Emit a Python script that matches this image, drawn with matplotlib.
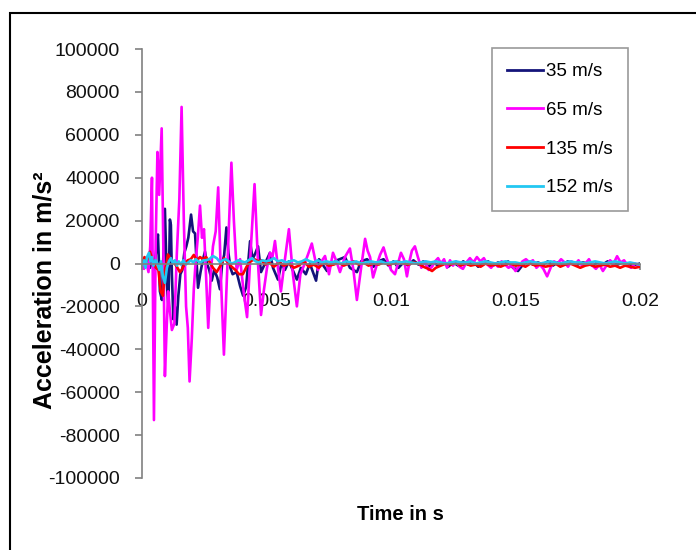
import matplotlib
matplotlib.use("Agg")
import matplotlib.pyplot as plt
from matplotlib import font_manager
from matplotlib.patches import Rectangle
from matplotlib.ticker import FixedLocator, FixedFormatter

# ---- data: acceleration (m/s^2) vs time (s) for four impact velocities ----
labels = ["35 m/s", "65 m/s", "135 m/s", "152 m/s"]
colors = ["#14147a", "#ff00ff", "#ff0000", "#22c7f2"]

t_35 = [0.00000, 0.00008, 0.00016, 0.00024, 0.00032, 0.00040, 0.00048, 0.00056,
        0.00064, 0.00072, 0.00080, 0.00086, 0.00092, 0.00100, 0.00106, 0.00112,
        0.00116, 0.00120, 0.00126, 0.00132, 0.00139, 0.00146, 0.00154, 0.00162,
        0.00170, 0.00178, 0.00186, 0.00197, 0.00205, 0.00213, 0.00225, 0.00235,
        0.00245, 0.00253, 0.00261, 0.00270, 0.00280, 0.00290, 0.00302, 0.00313,
        0.00322, 0.00330, 0.00339, 0.00347, 0.00355, 0.00364, 0.00380, 0.00394,
        0.00406, 0.00418, 0.00434, 0.00444, 0.00456, 0.00466, 0.00478, 0.00490,
        0.00514, 0.00526, 0.00546, 0.00560, 0.00574, 0.00590, 0.00622, 0.00638,
        0.00658, 0.00674, 0.00699, 0.00711, 0.00743, 0.00763, 0.00783, 0.00815,
        0.00835, 0.00863, 0.00880, 0.00904, 0.00930, 0.00950, 0.00970, 0.00990,
        0.01010, 0.01030, 0.01050, 0.01070, 0.01090, 0.01110, 0.01130, 0.01150,
        0.01170, 0.01190, 0.01210, 0.01230, 0.01250, 0.01270, 0.01290, 0.01310,
        0.01330, 0.01350, 0.01370, 0.01390, 0.01410, 0.01430, 0.01450, 0.01470,
        0.01490, 0.01510, 0.01530, 0.01550, 0.01570, 0.01590, 0.01610, 0.01630,
        0.01650, 0.01670, 0.01690, 0.01710, 0.01730, 0.01750, 0.01770, 0.01790,
        0.01810, 0.01830, 0.01850, 0.01870, 0.01890, 0.01910, 0.01930, 0.01950,
        0.01970, 0.02000]
a_35 = [0, 1500, -1000, 2000, -2000, 1000, -3000, 5000,
        13500, -13000, -17000, 5000, 25500, -10000, -20000, 20500,
        18000, -5000, -26000, -20000, -28500, -15000, -5000, -3000,
        5000, 8000, 12000, 22800, 15000, 14000, -11300, -4000,
        2000, 5500, 0, -3000, -8000, -3000, -6500, -12000,
        0, 4000, 16800, 5000, -2000, -5000, -4000, -10500,
        -15000, -11000, 10400, 2000, 5000, 8000, -4000, -1000,
        5000, -2000, -7500, 0, -3000, 1000, -7500, -2000,
        -5000, 0, -8000, 2000, -3500, 0, 1500, 3000,
        -2000, -4000, 1000, 2000, -1500, 1000, 2000, -1000,
        1000, -2000, 500, -1000, 1500, -500, 1000, -1500,
        500, -1000, 1000, -1500, 500, -1000, 1000, -500,
        1000, -1500, 0, 1000, -1000, 500, -500, 1000,
        -2000, -3500, -500, 1000, -500, 500, -500, 1000,
        -1000, 500, -500, 1000, 0, -500, 500, 0,
        -1000, 500, -500, 1000, 0, -500, 500, 0,
        -1000, 0]

t_65 = [0.00000, 0.00008, 0.00016, 0.00026, 0.00033, 0.00040, 0.00048, 0.00055,
        0.00062, 0.00069, 0.00079, 0.00086, 0.00092, 0.00099, 0.00105, 0.00112,
        0.00120, 0.00130, 0.00140, 0.00150, 0.00159, 0.00168, 0.00177, 0.00184,
        0.00191, 0.00200, 0.00208, 0.00215, 0.00224, 0.00233, 0.00241, 0.00249,
        0.00257, 0.00266, 0.00276, 0.00285, 0.00296, 0.00306, 0.00318, 0.00329,
        0.00340, 0.00350, 0.00359, 0.00369, 0.00380, 0.00394, 0.00410, 0.00422,
        0.00436, 0.00452, 0.00466, 0.00478, 0.00490, 0.00502, 0.00514, 0.00524,
        0.00534, 0.00546, 0.00558, 0.00574, 0.00590, 0.00606, 0.00622, 0.00636,
        0.00650, 0.00666, 0.00682, 0.00695, 0.00707, 0.00721, 0.00735, 0.00751,
        0.00767, 0.00781, 0.00795, 0.00815, 0.00835, 0.00849, 0.00863, 0.00880,
        0.00896, 0.00906, 0.00916, 0.00928, 0.00942, 0.00956, 0.00970, 0.00984,
        0.01000, 0.01016, 0.01028, 0.01040, 0.01052, 0.01064, 0.01076, 0.01084,
        0.01096, 0.01108, 0.01122, 0.01137, 0.01151, 0.01165, 0.01177, 0.01189,
        0.01201, 0.01213, 0.01225, 0.01237, 0.01249, 0.01261, 0.01275, 0.01289,
        0.01303, 0.01317, 0.01331, 0.01345, 0.01359, 0.01373, 0.01387, 0.01402,
        0.01416, 0.01430, 0.01444, 0.01458, 0.01472, 0.01486, 0.01500, 0.01514,
        0.01528, 0.01542, 0.01556, 0.01570, 0.01584, 0.01598, 0.01612, 0.01627,
        0.01641, 0.01655, 0.01669, 0.01683, 0.01697, 0.01711, 0.01725, 0.01739,
        0.01753, 0.01767, 0.01781, 0.01795, 0.01809, 0.01823, 0.01837, 0.01851,
        0.01865, 0.01880, 0.01894, 0.01908, 0.01922, 0.01936, 0.01950, 0.01964,
        0.01980, 0.02000]
a_65 = [0, -2500, 1500, -4000, 8000, 40000, -73000, 10000,
        52000, 32000, 63000, 5000, -52500, -30000, -13000, -22000,
        -31000, -28000, 5000, 30000, 73000, 20000, -20000, -30000,
        -55000, -35000, -12000, 0, 12000, 27000, 12000, 16000,
        -5000, -30000, -5000, 8000, 15000, 35500, -10000, -42500,
        -10000, 20000, 47000, 20000, -3000, 2000, -15000, -25000,
        5000, 37000, 0, -24000, -12000, -2000, 5000, 3000,
        10500, -2000, -13000, 2000, 16000, -5000, -20000, -5000,
        -1000, 4000, 9300, 2000, -3000, 1000, 3500, -5000,
        5000, 1000, -4000, 3000, 7000, -3000, -17000, -2000,
        11500, 6000, 3000, -6500, -1000, 4000, 7500, 2000,
        -3000, -5000, 0, 5000, 2000, -6000, 2000, 6000,
        8000, 3000, -2000, 1000, -3000, -1500, 1000, 2500,
        0, 2000, -2000, 1500, -1000, 1000, -1500, -2500,
        500, 2500, 500, 3000, 1000, 2500, -500, -2000,
        0, -1500, 1000, -500, -2000, -1000, -3500, -1500,
        1000, 2000, 500, 1500, -2000, -500, -2500, -6000,
        -2000, 1000, 0, 2000, 500, -1500, 1000, -500,
        1500, -1000, 0, 2000, -1000, -2500, -500, -3500,
        -1000, 1500, 0, 3400, 500, 1500, -1000, -2000,
        0, -1000]

t_135 = [0.00000, 0.00010, 0.00020, 0.00032, 0.00044, 0.00056, 0.00066, 0.00075,
         0.00084, 0.00092, 0.00100, 0.00104, 0.00116, 0.00128, 0.00140, 0.00152,
         0.00160, 0.00172, 0.00184, 0.00196, 0.00208, 0.00220, 0.00233, 0.00245,
         0.00257, 0.00270, 0.00285, 0.00300, 0.00315, 0.00330, 0.00345, 0.00360,
         0.00375, 0.00390, 0.00405, 0.00420, 0.00436, 0.00452, 0.00466, 0.00480,
         0.00495, 0.00510, 0.00530, 0.00550, 0.00570, 0.00590, 0.00610, 0.00630,
         0.00650, 0.00670, 0.00690, 0.00710, 0.00730, 0.00750, 0.00770, 0.00790,
         0.00810, 0.00830, 0.00850, 0.00870, 0.00890, 0.00910, 0.00930, 0.00950,
         0.00970, 0.00990, 0.01010, 0.01030, 0.01050, 0.01070, 0.01090, 0.01110,
         0.01130, 0.01150, 0.01165, 0.01180, 0.01200, 0.01220, 0.01240, 0.01260,
         0.01280, 0.01300, 0.01320, 0.01340, 0.01360, 0.01380, 0.01400, 0.01420,
         0.01440, 0.01460, 0.01480, 0.01500, 0.01520, 0.01540, 0.01560, 0.01580,
         0.01600, 0.01620, 0.01640, 0.01660, 0.01680, 0.01700, 0.01720, 0.01740,
         0.01760, 0.01780, 0.01800, 0.01820, 0.01840, 0.01860, 0.01880, 0.01900,
         0.01920, 0.01940, 0.01960, 0.01980, 0.02000]
a_135 = [0, 3000, 1500, 5500, 1000, -2000, -3000, -13000,
         -15000, -3000, 1000, 4200, 2000, 500, -1500, -4000,
         -2800, 0, 1500, 2000, 4000, 1500, 3000, 2000,
         3000, 1000, -2000, -4000, -1000, 2500, 500, -1500,
         -3000, -5000, -5000, -1500, 1000, 2000, 1000, 1500,
         -500, 500, -1500, 500, -1000, 0, -2000, -1000,
         1000, -1500, -500, -2000, 500, -1000, -500, 500,
         -1000, 0, 1000, -500, 500, -1000, 0, -500,
         500, -500, 0, 1000, 0, -500, 500, 0,
         -1500, -2500, -3500, -2000, -1000, 0, -500, 500,
         -1000, 0, -1000, -500, -1500, 0, -1000, -500,
         -1500, -500, 0, -1000, -500, -1500, 0, -1000,
         -500, -1500, -1000, 0, -1500, -500, 0, -1000,
         -2000, -1000, -500, -1500, -1000, -500, -1500, -1000,
         -2000, -1000, -1500, -2000, -1500]

t_152 = [0.00000, 0.00008, 0.00014, 0.00020, 0.00028, 0.00034, 0.00040, 0.00046,
         0.00054, 0.00062, 0.00070, 0.00076, 0.00084, 0.00092, 0.00100, 0.00108,
         0.00116, 0.00124, 0.00132, 0.00140, 0.00148, 0.00156, 0.00166, 0.00176,
         0.00186, 0.00196, 0.00206, 0.00216, 0.00226, 0.00236, 0.00246, 0.00256,
         0.00270, 0.00285, 0.00300, 0.00314, 0.00324, 0.00336, 0.00348, 0.00360,
         0.00372, 0.00386, 0.00400, 0.00414, 0.00428, 0.00442, 0.00456, 0.00470,
         0.00484, 0.00498, 0.00514, 0.00530, 0.00546, 0.00562, 0.00578, 0.00594,
         0.00610, 0.00626, 0.00642, 0.00658, 0.00674, 0.00690, 0.00706, 0.00722,
         0.00740, 0.00760, 0.00780, 0.00800, 0.00820, 0.00840, 0.00860, 0.00880,
         0.00900, 0.00920, 0.00940, 0.00960, 0.00980, 0.01000, 0.01020, 0.01040,
         0.01060, 0.01080, 0.01100, 0.01120, 0.01140, 0.01160, 0.01180, 0.01200,
         0.01220, 0.01240, 0.01260, 0.01280, 0.01300, 0.01320, 0.01340, 0.01360,
         0.01380, 0.01400, 0.01420, 0.01440, 0.01460, 0.01480, 0.01500, 0.01520,
         0.01540, 0.01560, 0.01580, 0.01600, 0.01620, 0.01640, 0.01660, 0.01680,
         0.01700, 0.01720, 0.01740, 0.01760, 0.01780, 0.01800, 0.01820, 0.01840,
         0.01860, 0.01880, 0.01900, 0.01920, 0.01940, 0.01960, 0.01980, 0.02000]
a_152 = [-1000, 1500, -2000, 3000, 5000, 1000, 3000, -1000,
         1500, 0, -3000, 1000, -6000, -9000, -2000, 1000,
         2500, 0, 1500, -1000, 1000, -500, 1500, -500,
         500, 1500, 500, 2000, 1000, 500, 1500, 1500,
         2000, 3500, 2500, 500, 1500, 2000, 1000, 0,
         500, 1500, 1000, 500, 1500, 2500, 1000, 500,
         1500, 1000, 1500, 2500, 1000, 1500, 500, 1000,
         1500, 500, 1000, 2000, 1000, 500, 1500, 500,
         1000, 500, 1000, 0, 1000, 500, 1000, 0,
         500, 1000, 500, 1000, 0, 500, 1000, 500,
         1000, 500, 0, 500, 1000, 500, 1000, 500,
         0, 500, 1000, 500, 500, 1000, 0, 500,
         1000, 500, 0, 500, 1000, 500, 500, 0,
         500, 1000, 500, 0, 500, 1000, 500, 0,
         500, 1000, 500, 500, 0, 500, 1000, 500,
         0, 500, 1000, 500, 0, 500, 0, -500]

x_ticks = [0, 0.005, 0.01, 0.015, 0.02]
x_tick_labels = ["0", "0.005", "0.01", "0.015", "0.02"]
y_ticks = [-100000, -80000, -60000, -40000, -20000, 0,
           20000, 40000, 60000, 80000, 100000]
y_tick_labels = [str(v) for v in y_ticks]

# ---- fonts ----
installed = {f.name for f in font_manager.fontManager.ttflist}
narrow = "Liberation Sans Narrow" if "Liberation Sans Narrow" in installed else "Liberation Sans"
plt.rcParams["font.family"] = [narrow, "DejaVu Sans"]
plt.rcParams["axes.unicode_minus"] = False

W, H = 696, 550
fig = plt.figure(figsize=(W / 100, H / 100), dpi=100)
fig.patch.set_facecolor("white")

# outer chart-area frame
fig.add_artist(Rectangle((10 / W, -0.1), 2.0, (H - 13) / H + 0.1,
                         transform=fig.transFigure, fill=False,
                         edgecolor="black", linewidth=1.5))

ax = fig.add_axes([142 / W, 1 - 478 / H, 498 / W, 429 / H])
ax.set_facecolor("none")

series = [(t_35, a_35), (t_65, a_65), (t_135, a_135), (t_152, a_152)]
for (t, a), lab, col in zip(series, labels, colors):
    ax.plot(t, a, color=col, linewidth=1.9, label=lab, solid_joinstyle="round")

ax.set_xlim(0, 0.02)
ax.set_ylim(-100000, 100000)

axis_grey = "#808080"
for side in ("top", "right"):
    ax.spines[side].set_visible(False)
ax.spines["bottom"].set_position(("data", 0))
ax.spines["left"].set_color(axis_grey)
ax.spines["bottom"].set_color(axis_grey)
ax.spines["left"].set_linewidth(1.2)
ax.spines["bottom"].set_linewidth(1.2)

ax.xaxis.set_major_locator(FixedLocator(x_ticks))
ax.xaxis.set_major_formatter(FixedFormatter(x_tick_labels))
ax.yaxis.set_major_locator(FixedLocator(y_ticks))
ax.yaxis.set_major_formatter(FixedFormatter(y_tick_labels))

ax.tick_params(axis="y", direction="out", length=5, width=1.2, color=axis_grey,
               pad=11, labelsize=14, labelcolor="#111111")
ax.tick_params(axis="x", direction="out", length=4, width=1.2, color=axis_grey,
               pad=17, labelsize=14, labelcolor="#111111")

fig.text(45 / W, 1 - 290 / H, "Acceleration in m/s\u00b2", rotation=90,
         ha="center", va="center", fontsize=18, fontweight="bold",
         family=["Liberation Sans", "DejaVu Sans"])
fig.text(400 / W, 1 - 515 / H, "Time in s", ha="center", va="center",
         fontsize=14.5, fontweight="bold")

leg = ax.legend(loc="upper left", bbox_to_anchor=(492 / W, 1 - 48 / H),
                bbox_transform=fig.transFigure, frameon=True, fancybox=False,
                fontsize=13.5, handlelength=1.9, handletextpad=0.2,
                labelspacing=1.15, borderpad=0.8, borderaxespad=0)
leg.get_frame().set_edgecolor(axis_grey)
leg.get_frame().set_linewidth(1.2)
for h in leg.get_lines():
    h.set_linewidth(2.0)

fig.savefig("out.png", dpi=100)
